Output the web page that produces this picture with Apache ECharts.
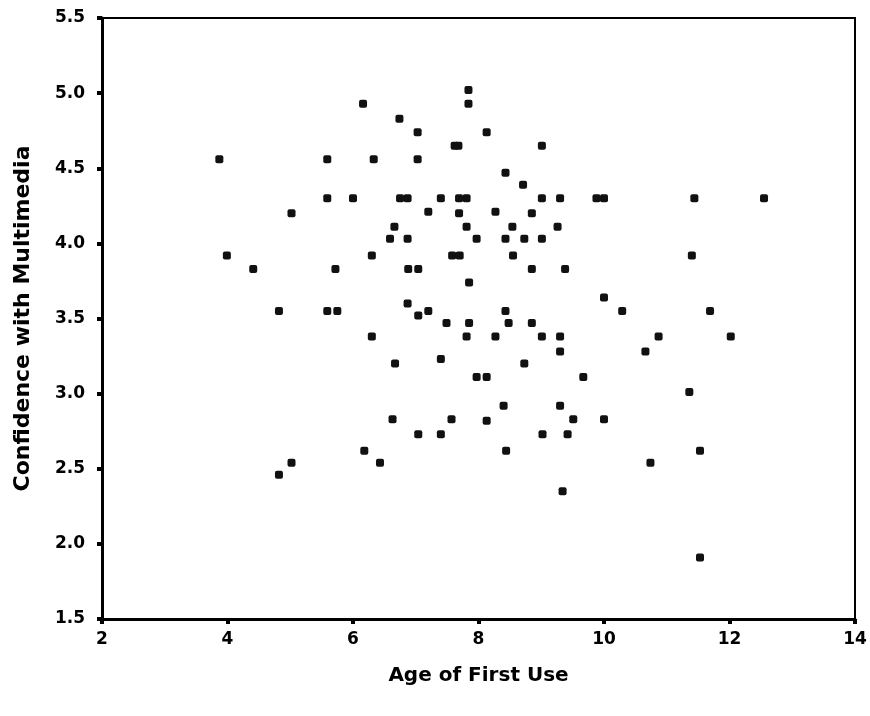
<!DOCTYPE html>
<html>
<head>
<meta charset="utf-8">
<script src="https://cdn.jsdelivr.net/npm/echarts@6/dist/echarts.min.js"></script>
<style>
  html, body { margin: 0; padding: 0; background: #fff; }
  #chart { width: 870px; height: 716px; }
</style>
</head>
<body>
<div id="chart"></div>
<script>
// values, one entry per point
var ageOfFirstUse = [
    7.84, 7.84, 6.16, 6.74, 7.03, 8.13, 7.62, 7.68, 9.01, 3.87, 5.59, 6.33, 7.03, 8.43, 8.71,
    5.59, 6.00, 6.75, 6.87, 7.40, 7.69, 7.81, 9.01, 9.30, 9.88, 10.00, 11.44, 12.55,
    5.02, 7.20, 7.69, 8.27, 8.85,
    6.66, 7.81, 8.54, 9.26,
    6.59, 6.87, 7.97, 8.43, 8.73, 9.01,
    3.99, 6.30, 7.58, 7.70, 8.55, 11.40,
    4.41, 5.72, 6.88, 7.04, 8.85, 9.38,
    7.85, 10.00, 6.87,
    4.82, 5.59, 5.75, 7.20, 8.43, 10.29, 11.69, 7.04,
    7.49, 7.85, 8.48, 8.85,
    6.30, 7.81, 8.27, 9.01, 9.30, 10.87, 12.02,
    9.30, 10.66, 7.40, 6.67, 8.73,
    7.97, 8.13, 9.67, 11.36, 8.40, 9.30,
    6.63, 7.57, 8.13, 9.51, 10.00,
    7.04, 7.40, 9.02, 9.42,
    6.18, 8.44, 11.53, 5.02, 6.43, 10.74, 4.82, 9.34, 11.53
];
var confidence = [
    5.02, 4.93, 4.93, 4.83, 4.74, 4.74, 4.65, 4.65, 4.65, 4.56, 4.56, 4.56, 4.56, 4.47, 4.39,
    4.30, 4.30, 4.30, 4.30, 4.30, 4.30, 4.30, 4.30, 4.30, 4.30, 4.30, 4.30, 4.30,
    4.20, 4.21, 4.20, 4.21, 4.20,
    4.11, 4.11, 4.11, 4.11,
    4.03, 4.03, 4.03, 4.03, 4.03, 4.03,
    3.92, 3.92, 3.92, 3.92, 3.92, 3.92,
    3.83, 3.83, 3.83, 3.83, 3.83, 3.83,
    3.74, 3.64, 3.60,
    3.55, 3.55, 3.55, 3.55, 3.55, 3.55, 3.55, 3.52,
    3.47, 3.47, 3.47, 3.47,
    3.38, 3.38, 3.38, 3.38, 3.38, 3.38, 3.38,
    3.28, 3.28, 3.23, 3.20, 3.20,
    3.11, 3.11, 3.11, 3.01, 2.92, 2.92,
    2.83, 2.83, 2.82, 2.83, 2.83,
    2.73, 2.73, 2.73, 2.73,
    2.62, 2.62, 2.62, 2.54, 2.54, 2.54, 2.46, 2.35, 1.91
];

var points = ageOfFirstUse.map(function (a, i) { return [a, confidence[i]]; });

var myChart = echarts.init(document.getElementById('chart'));

var labelStyle = {
    color: '#000',
    fontFamily: 'DejaVu Sans',
    fontWeight: 'bold',
    fontSize: 17
};

var option = {
    animation: false,
    grid: {
        left: 102, right: 15, top: 18, bottom: 97,
        show: true,
        borderColor: '#000',
        borderWidth: 2
    },
    xAxis: {
        type: 'value',
        min: 2, max: 14, interval: 2,
        name: 'Age of First Use',
        nameLocation: 'middle',
        nameGap: 47,
        nameTextStyle: { color: '#000', fontFamily: 'DejaVu Sans', fontWeight: 'bold', fontSize: 20 },
        axisLine: { lineStyle: { color: '#000', width: 3 } },
        axisTick: { length: 5, lineStyle: { color: '#000', width: 4 } },
        axisLabel: Object.assign({ margin: 12 }, labelStyle),
        splitLine: { show: false }
    },
    yAxis: {
        type: 'value',
        min: 1.5, max: 5.5, interval: 0.5,
        name: 'Confidence with Multimedia',
        nameLocation: 'middle',
        nameGap: 68,
        nameTextStyle: { color: '#000', fontFamily: 'DejaVu Sans', fontWeight: 'bold', fontSize: 22 },
        axisLine: { lineStyle: { color: '#000', width: 3 } },
        axisTick: { length: 5, lineStyle: { color: '#000', width: 4 } },
        axisLabel: Object.assign({ margin: 17, formatter: function (v) { return v.toFixed(1); } }, labelStyle),
        splitLine: { show: false }
    },
    series: [{
        type: 'scatter',
        symbol: 'roundRect',
        symbolSize: 8,
        itemStyle: { color: '#111', opacity: 1 },
        data: points
    }]
};

myChart.setOption(option);
</script>
</body>
</html>
